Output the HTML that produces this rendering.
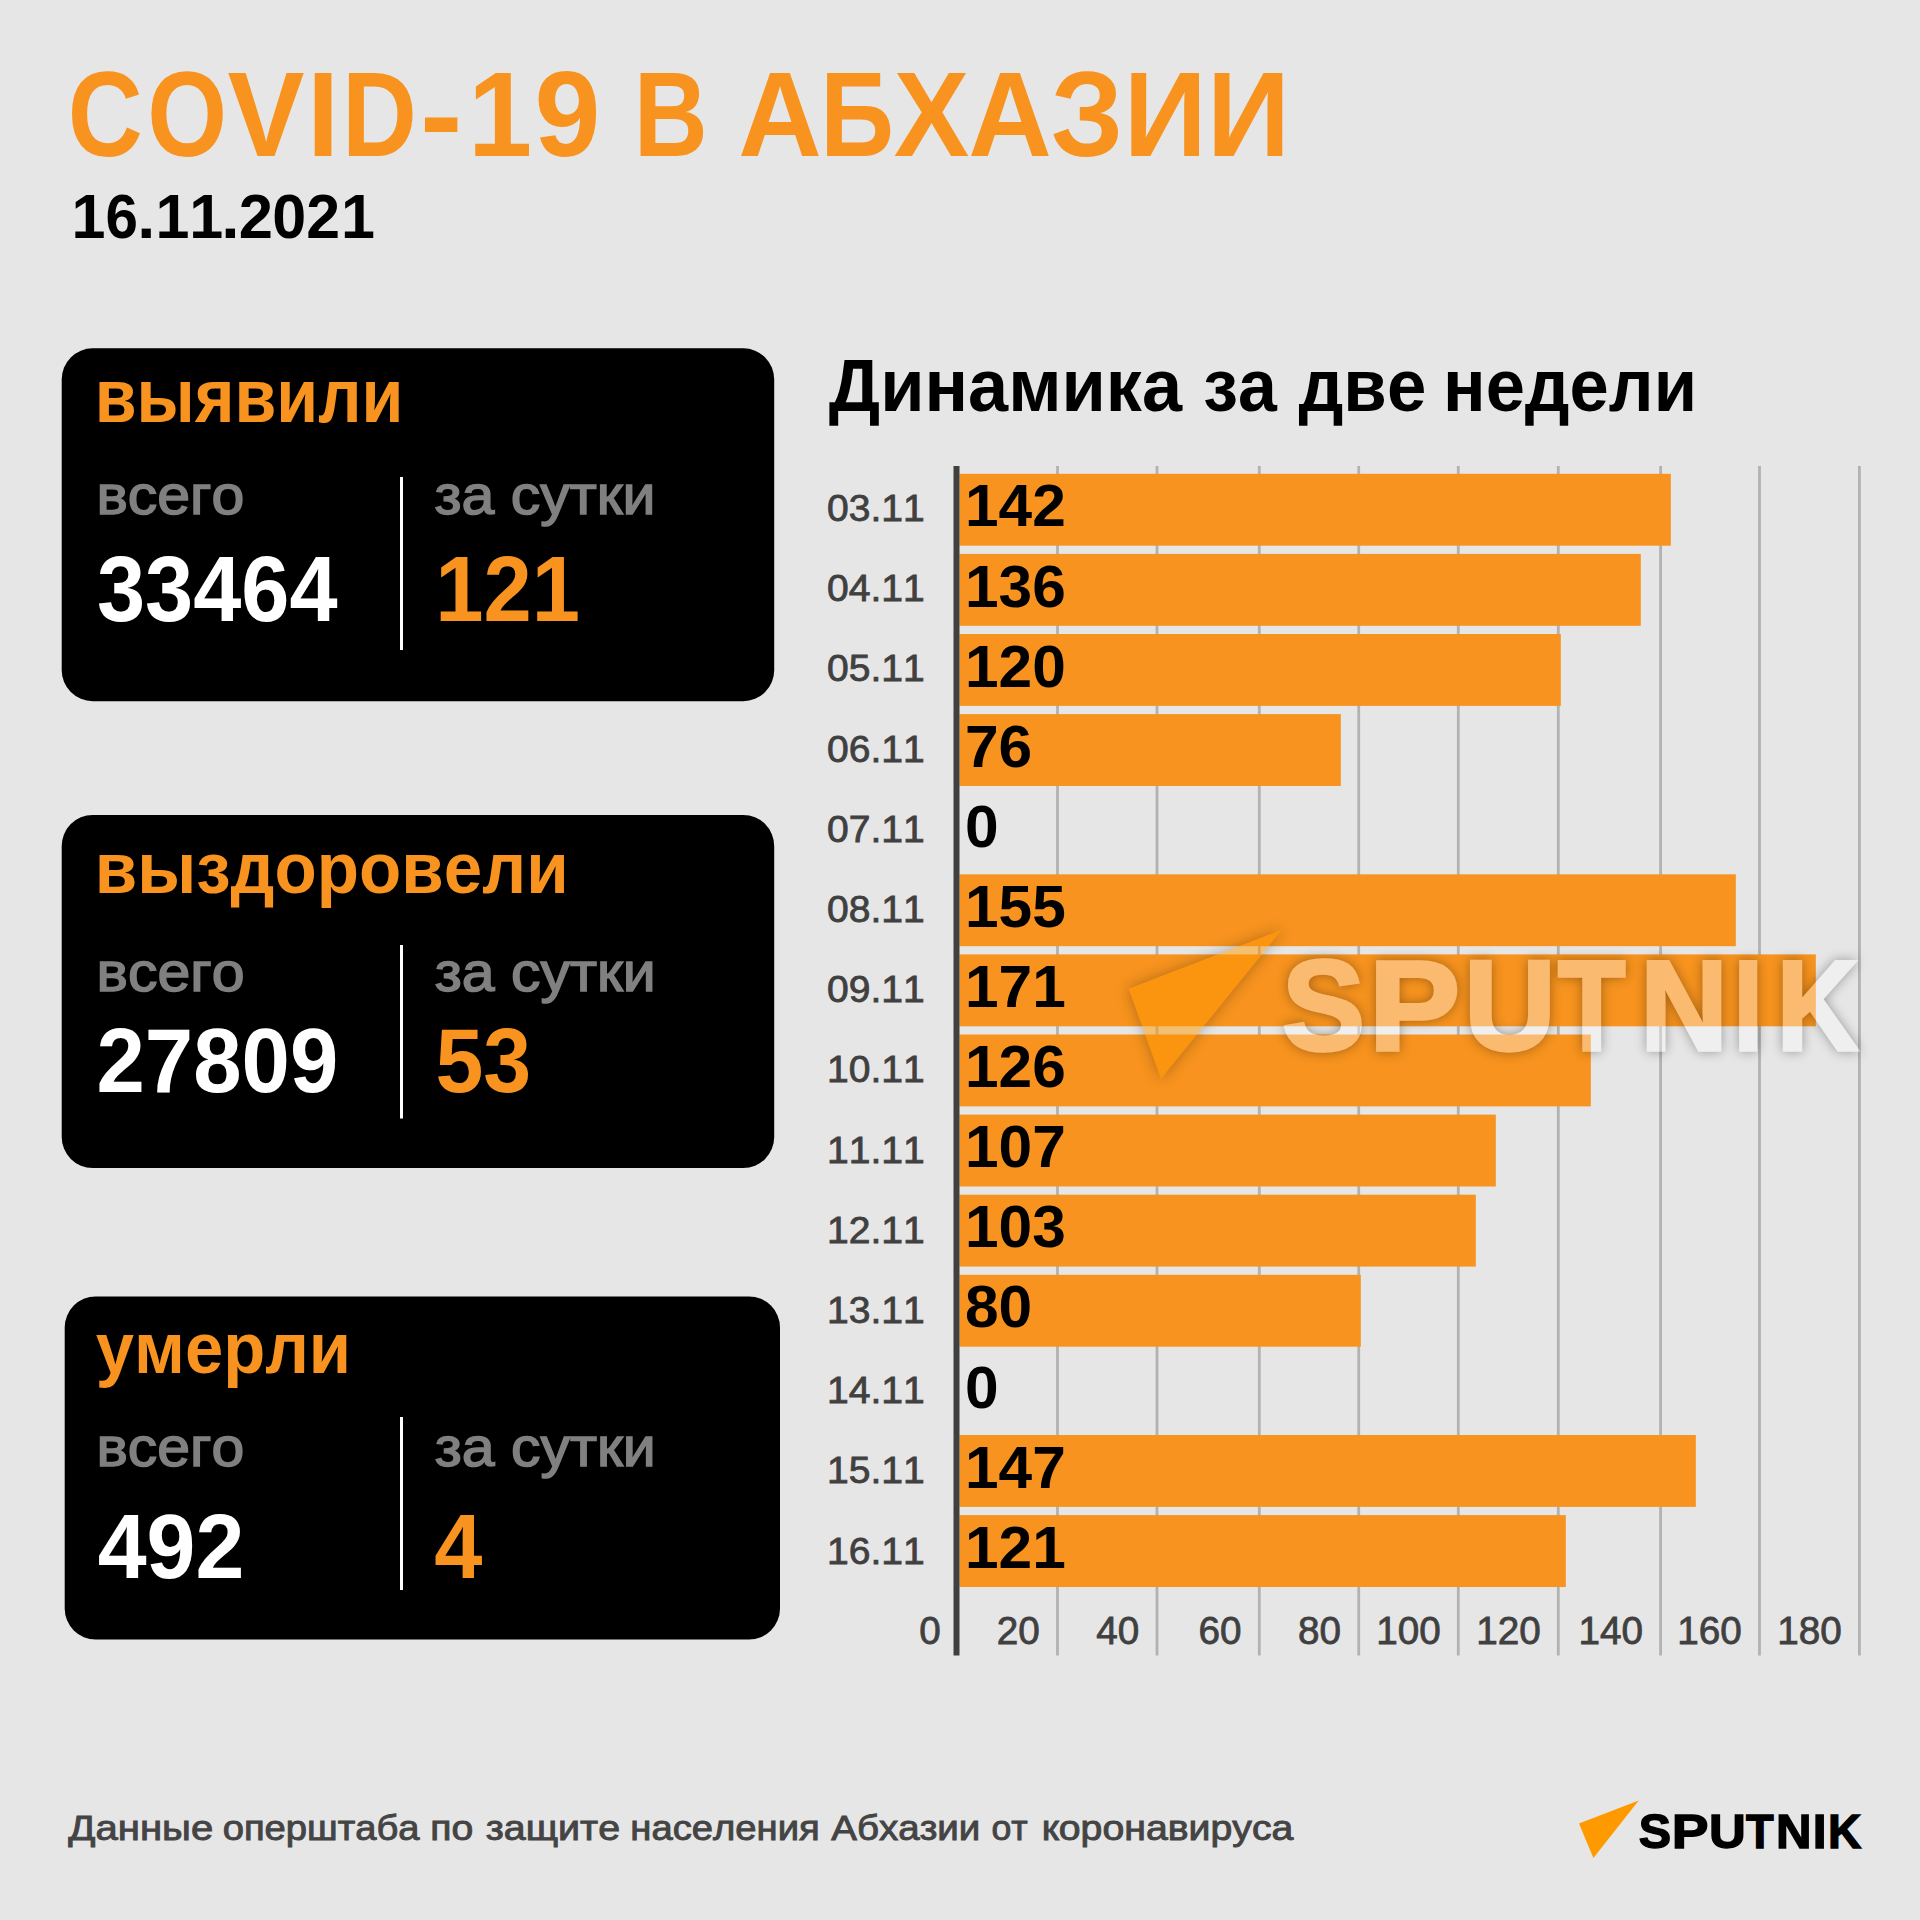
<!DOCTYPE html>
<html lang="ru"><head><meta charset="utf-8"><title>COVID-19 в Абхазии</title>
<style>html,body{margin:0;padding:0;background:#E6E6E6;overflow:hidden}svg{display:block}text{font-family:'Liberation Sans', Arial, sans-serif;white-space:pre;font-kerning:none}</style></head>
<body><svg width="1920" height="1920" viewBox="0 0 1920 1920">
<rect x="0" y="0" width="1920" height="1920" fill="#E6E6E6"/>
<rect x="61.7" y="348.3" width="712.5" height="352.9" rx="31" ry="31" fill="#000"/>
<rect x="61.7" y="815" width="712.5" height="353" rx="31" ry="31" fill="#000"/>
<rect x="64.7" y="1296.5" width="715.3" height="343" rx="31" ry="31" fill="#000"/>
<rect x="400" y="477" width="3" height="173" fill="#fff"/>
<rect x="400" y="945" width="3" height="173.5" fill="#fff"/>
<rect x="400" y="1417" width="3" height="173" fill="#fff"/>
<rect x="1056.1" y="466" width="2.8" height="1189.5" fill="#B2B2B2"/>
<rect x="1155.6" y="466" width="2.8" height="1189.5" fill="#B2B2B2"/>
<rect x="1257.9" y="466" width="2.8" height="1189.5" fill="#B2B2B2"/>
<rect x="1357.3" y="466" width="2.8" height="1189.5" fill="#B2B2B2"/>
<rect x="1456.9" y="466" width="2.8" height="1189.5" fill="#B2B2B2"/>
<rect x="1556.9" y="466" width="2.8" height="1189.5" fill="#B2B2B2"/>
<rect x="1659.2" y="466" width="2.8" height="1189.5" fill="#B2B2B2"/>
<rect x="1758.1" y="466" width="2.8" height="1189.5" fill="#B2B2B2"/>
<rect x="1858" y="466" width="2.8" height="1189.5" fill="#B2B2B2"/>
<rect x="959.5" y="473.8" width="711.3" height="71.9" fill="#F7931E"/>
<rect x="959.5" y="553.9" width="681.3" height="71.9" fill="#F7931E"/>
<rect x="959.5" y="634" width="601.3" height="71.9" fill="#F7931E"/>
<rect x="959.5" y="714.1" width="381.3" height="71.9" fill="#F7931E"/>
<rect x="959.5" y="874.3" width="776.3" height="71.9" fill="#F7931E"/>
<rect x="959.5" y="954.4" width="856.3" height="71.9" fill="#F7931E"/>
<rect x="959.5" y="1034.5" width="631.3" height="71.9" fill="#F7931E"/>
<rect x="959.5" y="1114.6" width="536.3" height="71.9" fill="#F7931E"/>
<rect x="959.5" y="1194.7" width="516.3" height="71.9" fill="#F7931E"/>
<rect x="959.5" y="1274.8" width="401.3" height="71.9" fill="#F7931E"/>
<rect x="959.5" y="1435" width="736.3" height="71.9" fill="#F7931E"/>
<rect x="959.5" y="1515.1" width="606.3" height="71.9" fill="#F7931E"/>
<rect x="953.5" y="466" width="6" height="1189.5" fill="#404040"/>
<text y="155.8" font-size="120.72" fill="#F7931E" font-weight="bold"><tspan x="67.85" textLength="74.98" lengthAdjust="spacingAndGlyphs">C</tspan><tspan x="147.15" textLength="79.75" lengthAdjust="spacingAndGlyphs">O</tspan><tspan x="227.6" textLength="76.97" lengthAdjust="spacingAndGlyphs">V</tspan><tspan x="306.99" textLength="32.1" lengthAdjust="spacingAndGlyphs">I</tspan><tspan x="342.01" textLength="74.86" lengthAdjust="spacingAndGlyphs">D</tspan><tspan x="419.9" textLength="42.45" lengthAdjust="spacingAndGlyphs">-</tspan><tspan x="468.02" textLength="64.17" lengthAdjust="spacingAndGlyphs">1</tspan><tspan x="534.6" textLength="65.94" lengthAdjust="spacingAndGlyphs">9</tspan> <tspan x="633.84" textLength="73.99" lengthAdjust="spacingAndGlyphs">В</tspan> <tspan x="738.36" textLength="83.54" lengthAdjust="spacingAndGlyphs">А</tspan><tspan x="820.34" textLength="73.61" lengthAdjust="spacingAndGlyphs">Б</tspan><tspan x="893.87" textLength="75.49" lengthAdjust="spacingAndGlyphs">Х</tspan><tspan x="968.36" textLength="83.54" lengthAdjust="spacingAndGlyphs">А</tspan><tspan x="1050.86" textLength="72.53" lengthAdjust="spacingAndGlyphs">З</tspan><tspan x="1123.75" textLength="82.93" lengthAdjust="spacingAndGlyphs">И</tspan><tspan x="1207" textLength="82.93" lengthAdjust="spacingAndGlyphs">И</tspan></text>
<text y="238" font-size="62.75" fill="#000" font-weight="bold"><tspan x="71.4" textLength="33.96" lengthAdjust="spacingAndGlyphs">1</tspan><tspan x="105.46" textLength="32.45" lengthAdjust="spacingAndGlyphs">6</tspan><tspan x="137.15" textLength="18.06" lengthAdjust="spacingAndGlyphs">.</tspan><tspan x="155.5" textLength="33.96" lengthAdjust="spacingAndGlyphs">1</tspan><tspan x="189.2" textLength="33.96" lengthAdjust="spacingAndGlyphs">1</tspan><tspan x="221.2" textLength="18.26" lengthAdjust="spacingAndGlyphs">.</tspan><tspan x="238.65" textLength="34.18" lengthAdjust="spacingAndGlyphs">2</tspan><tspan x="272.26" textLength="33.96" lengthAdjust="spacingAndGlyphs">0</tspan><tspan x="306.17" textLength="33.83" lengthAdjust="spacingAndGlyphs">2</tspan><tspan x="340.9" textLength="33.96" lengthAdjust="spacingAndGlyphs">1</tspan></text>
<text y="410.8" font-size="74.53" fill="#000" font-weight="bold"><tspan x="828.78" textLength="353.25" lengthAdjust="spacingAndGlyphs">Динамика</tspan> <tspan x="1203.25" textLength="73.58" lengthAdjust="spacingAndGlyphs">за</tspan> <tspan x="1298.4" textLength="127.88" lengthAdjust="spacingAndGlyphs">две</tspan> <tspan x="1443.06" textLength="253.95" lengthAdjust="spacingAndGlyphs">недели</tspan></text>
<text y="422.4" font-size="75.85" fill="#F7931E" font-weight="bold"><tspan x="94.63" textLength="308.72" lengthAdjust="spacingAndGlyphs">выявили</tspan></text>
<text y="514.25" font-size="55.09" fill="#808080" stroke="#808080" stroke-width="1.5"><tspan x="96.42" textLength="147.99" lengthAdjust="spacingAndGlyphs">всего</tspan></text>
<text y="514.25" font-size="55.09" fill="#808080" stroke="#808080" stroke-width="1.5"><tspan x="434.47" textLength="221.1" lengthAdjust="spacingAndGlyphs">за сутки</tspan></text>
<text y="621.4" font-size="92.75" fill="#fff" font-weight="bold"><tspan x="96.94" textLength="240.66" lengthAdjust="spacingAndGlyphs">33464</tspan></text>
<text y="621.4" font-size="92.75" fill="#F7931E" font-weight="bold"><tspan x="435.25" textLength="144.79" lengthAdjust="spacingAndGlyphs">121</tspan></text>
<text y="893.3" font-size="72.83" fill="#F7931E" font-weight="bold"><tspan x="94.66" textLength="474.02" lengthAdjust="spacingAndGlyphs">выздоровели</tspan></text>
<text y="990.55" font-size="54.72" fill="#808080" stroke="#808080" stroke-width="1.5"><tspan x="96.62" textLength="147.99" lengthAdjust="spacingAndGlyphs">всего</tspan></text>
<text y="990.55" font-size="54.72" fill="#808080" stroke="#808080" stroke-width="1.5"><tspan x="434.67" textLength="221.1" lengthAdjust="spacingAndGlyphs">за сутки</tspan></text>
<text y="1092.4" font-size="91.59" fill="#fff" font-weight="bold"><tspan x="96.46" textLength="241.86" lengthAdjust="spacingAndGlyphs">27809</tspan></text>
<text y="1092.4" font-size="91.59" fill="#F7931E" font-weight="bold"><tspan x="435.42" textLength="95.69" lengthAdjust="spacingAndGlyphs">53</tspan></text>
<text y="1372.8" font-size="72.64" fill="#F7931E" font-weight="bold"><tspan x="95.81" textLength="255.36" lengthAdjust="spacingAndGlyphs">умерли</tspan></text>
<text y="1466.45" font-size="54.91" fill="#808080" stroke="#808080" stroke-width="1.5"><tspan x="96.42" textLength="147.88" lengthAdjust="spacingAndGlyphs">всего</tspan></text>
<text y="1466.45" font-size="54.91" fill="#808080" stroke="#808080" stroke-width="1.5"><tspan x="434.67" textLength="221.1" lengthAdjust="spacingAndGlyphs">за сутки</tspan></text>
<text y="1577.5" font-size="91.59" fill="#fff" font-weight="bold"><tspan x="97.68" textLength="146.71" lengthAdjust="spacingAndGlyphs">492</tspan></text>
<text y="1577.5" font-size="91.59" fill="#F7931E" font-weight="bold"><tspan x="434.2" textLength="48.13" lengthAdjust="spacingAndGlyphs">4</tspan></text>
<text y="1840.25" font-size="34.34" fill="#444" stroke="#444" stroke-width="0.9"><tspan x="68.25" textLength="145.02" lengthAdjust="spacingAndGlyphs">Данные</tspan> <tspan x="222.67" textLength="196.89" lengthAdjust="spacingAndGlyphs">оперштаба</tspan> <tspan x="430.21" textLength="43.01" lengthAdjust="spacingAndGlyphs">по</tspan> <tspan x="485.71" textLength="134.36" lengthAdjust="spacingAndGlyphs">защите</tspan> <tspan x="630.27" textLength="189.51" lengthAdjust="spacingAndGlyphs">населения</tspan> <tspan x="831.26" textLength="149.05" lengthAdjust="spacingAndGlyphs">Абхазии</tspan> <tspan x="991.52" textLength="36.21" lengthAdjust="spacingAndGlyphs">от</tspan> <tspan x="1041.65" textLength="251.71" lengthAdjust="spacingAndGlyphs">коронавируса</tspan></text>
<text y="521" font-size="37.54" fill="#404040" stroke="#404040" stroke-width="0.8"><tspan x="827.12" textLength="97.67" lengthAdjust="spacingAndGlyphs">03.11</tspan></text>
<text y="526.4" font-size="60" fill="#000" font-weight="bold"><tspan x="965" textLength="100.83" lengthAdjust="spacingAndGlyphs">142</tspan></text>
<text y="601.2" font-size="37.54" fill="#404040" stroke="#404040" stroke-width="0.8"><tspan x="827.12" textLength="97.67" lengthAdjust="spacingAndGlyphs">04.11</tspan></text>
<text y="606.5" font-size="60" fill="#000" font-weight="bold"><tspan x="965" textLength="100.83" lengthAdjust="spacingAndGlyphs">136</tspan></text>
<text y="681.4" font-size="37.54" fill="#404040" stroke="#404040" stroke-width="0.8"><tspan x="827.12" textLength="97.67" lengthAdjust="spacingAndGlyphs">05.11</tspan></text>
<text y="686.6" font-size="60" fill="#000" font-weight="bold"><tspan x="965" textLength="100.83" lengthAdjust="spacingAndGlyphs">120</tspan></text>
<text y="761.6" font-size="37.54" fill="#404040" stroke="#404040" stroke-width="0.8"><tspan x="827.12" textLength="97.67" lengthAdjust="spacingAndGlyphs">06.11</tspan></text>
<text y="766.7" font-size="60" fill="#000" font-weight="bold"><tspan x="965" textLength="67.22" lengthAdjust="spacingAndGlyphs">76</tspan></text>
<text y="841.8" font-size="37.54" fill="#404040" stroke="#404040" stroke-width="0.8"><tspan x="827.12" textLength="97.67" lengthAdjust="spacingAndGlyphs">07.11</tspan></text>
<text y="846.8" font-size="60" fill="#000" font-weight="bold"><tspan x="965" textLength="33.61" lengthAdjust="spacingAndGlyphs">0</tspan></text>
<text y="922" font-size="37.54" fill="#404040" stroke="#404040" stroke-width="0.8"><tspan x="827.12" textLength="97.67" lengthAdjust="spacingAndGlyphs">08.11</tspan></text>
<text y="926.9" font-size="60" fill="#000" font-weight="bold"><tspan x="965" textLength="100.83" lengthAdjust="spacingAndGlyphs">155</tspan></text>
<text y="1002.2" font-size="37.54" fill="#404040" stroke="#404040" stroke-width="0.8"><tspan x="827.12" textLength="97.67" lengthAdjust="spacingAndGlyphs">09.11</tspan></text>
<text y="1007" font-size="60" fill="#000" font-weight="bold"><tspan x="965" textLength="100.83" lengthAdjust="spacingAndGlyphs">171</tspan></text>
<text y="1082.4" font-size="37.54" fill="#404040" stroke="#404040" stroke-width="0.8"><tspan x="827.12" textLength="97.67" lengthAdjust="spacingAndGlyphs">10.11</tspan></text>
<text y="1087.1" font-size="60" fill="#000" font-weight="bold"><tspan x="965" textLength="100.83" lengthAdjust="spacingAndGlyphs">126</tspan></text>
<text y="1162.6" font-size="37.54" fill="#404040" stroke="#404040" stroke-width="0.8"><tspan x="827.12" textLength="97.67" lengthAdjust="spacingAndGlyphs">11.11</tspan></text>
<text y="1167.2" font-size="60" fill="#000" font-weight="bold"><tspan x="965" textLength="100.83" lengthAdjust="spacingAndGlyphs">107</tspan></text>
<text y="1242.8" font-size="37.54" fill="#404040" stroke="#404040" stroke-width="0.8"><tspan x="827.12" textLength="97.67" lengthAdjust="spacingAndGlyphs">12.11</tspan></text>
<text y="1247.3" font-size="60" fill="#000" font-weight="bold"><tspan x="965" textLength="100.83" lengthAdjust="spacingAndGlyphs">103</tspan></text>
<text y="1323" font-size="37.54" fill="#404040" stroke="#404040" stroke-width="0.8"><tspan x="827.12" textLength="97.67" lengthAdjust="spacingAndGlyphs">13.11</tspan></text>
<text y="1327.4" font-size="60" fill="#000" font-weight="bold"><tspan x="965" textLength="67.22" lengthAdjust="spacingAndGlyphs">80</tspan></text>
<text y="1403.2" font-size="37.54" fill="#404040" stroke="#404040" stroke-width="0.8"><tspan x="827.12" textLength="97.67" lengthAdjust="spacingAndGlyphs">14.11</tspan></text>
<text y="1407.5" font-size="60" fill="#000" font-weight="bold"><tspan x="965" textLength="33.61" lengthAdjust="spacingAndGlyphs">0</tspan></text>
<text y="1483.4" font-size="37.54" fill="#404040" stroke="#404040" stroke-width="0.8"><tspan x="827.12" textLength="97.67" lengthAdjust="spacingAndGlyphs">15.11</tspan></text>
<text y="1487.6" font-size="60" fill="#000" font-weight="bold"><tspan x="965" textLength="100.83" lengthAdjust="spacingAndGlyphs">147</tspan></text>
<text y="1563.6" font-size="37.54" fill="#404040" stroke="#404040" stroke-width="0.8"><tspan x="827.12" textLength="97.67" lengthAdjust="spacingAndGlyphs">16.11</tspan></text>
<text y="1567.7" font-size="60" fill="#000" font-weight="bold"><tspan x="965" textLength="100.83" lengthAdjust="spacingAndGlyphs">121</tspan></text>
<text y="1644.1" font-size="38.41" fill="#404040" stroke="#404040" stroke-width="0.8"><tspan x="919.19" textLength="21.51" lengthAdjust="spacingAndGlyphs">0</tspan></text>
<text y="1644.1" font-size="38.41" fill="#404040" stroke="#404040" stroke-width="0.8"><tspan x="996.83" textLength="43.01" lengthAdjust="spacingAndGlyphs">20</tspan></text>
<text y="1644.1" font-size="38.41" fill="#404040" stroke="#404040" stroke-width="0.8"><tspan x="1096.33" textLength="43.01" lengthAdjust="spacingAndGlyphs">40</tspan></text>
<text y="1644.1" font-size="38.41" fill="#404040" stroke="#404040" stroke-width="0.8"><tspan x="1198.63" textLength="43.01" lengthAdjust="spacingAndGlyphs">60</tspan></text>
<text y="1644.1" font-size="38.41" fill="#404040" stroke="#404040" stroke-width="0.8"><tspan x="1298.03" textLength="43.01" lengthAdjust="spacingAndGlyphs">80</tspan></text>
<text y="1644.1" font-size="38.41" fill="#404040" stroke="#404040" stroke-width="0.8"><tspan x="1376.17" textLength="64.52" lengthAdjust="spacingAndGlyphs">100</tspan></text>
<text y="1644.1" font-size="38.41" fill="#404040" stroke="#404040" stroke-width="0.8"><tspan x="1476.17" textLength="64.52" lengthAdjust="spacingAndGlyphs">120</tspan></text>
<text y="1644.1" font-size="38.41" fill="#404040" stroke="#404040" stroke-width="0.8"><tspan x="1578.47" textLength="64.52" lengthAdjust="spacingAndGlyphs">140</tspan></text>
<text y="1644.1" font-size="38.41" fill="#404040" stroke="#404040" stroke-width="0.8"><tspan x="1677.37" textLength="64.52" lengthAdjust="spacingAndGlyphs">160</tspan></text>
<text y="1644.1" font-size="38.41" fill="#404040" stroke="#404040" stroke-width="0.8"><tspan x="1777.27" textLength="64.52" lengthAdjust="spacingAndGlyphs">180</tspan></text>
<polygon points="1638.75,1800.6 1579,1823.6 1593.4,1858" fill="#FF9900"/>
<text y="1847.5" font-size="48.26" font-weight="bold" fill="#000" stroke="#000" stroke-width="1.4" stroke-linejoin="miter"><tspan x="1638.75" textLength="32.35" lengthAdjust="spacingAndGlyphs">S</tspan><tspan x="1671.82" textLength="36.75" lengthAdjust="spacingAndGlyphs">P</tspan><tspan x="1709.04" textLength="36.83" lengthAdjust="spacingAndGlyphs">U</tspan><tspan x="1746.05" textLength="27.64" lengthAdjust="spacingAndGlyphs">T</tspan><tspan x="1776.11" textLength="35.5" lengthAdjust="spacingAndGlyphs">N</tspan><tspan x="1812.77" textLength="13.8" lengthAdjust="spacingAndGlyphs">I</tspan><tspan x="1827.9" textLength="33.37" lengthAdjust="spacingAndGlyphs">K</tspan></text>
<defs><filter id="wmt" x="-5%" y="-30%" width="110%" height="160%" color-interpolation-filters="sRGB"><feGaussianBlur in="SourceAlpha" stdDeviation="6" result="b"/><feComposite in="b" in2="SourceAlpha" operator="out" result="sh"/><feColorMatrix in="sh" type="matrix" values="0 0 0 0 0  0 0 0 0 0  0 0 0 0 0  0 0 0 0.34 0" result="sh2"/><feColorMatrix in="SourceGraphic" type="matrix" values="1 0 0 0 0  0 1 0 0 0  0 0 1 0 0  0 0 0 0.36 0" result="tx"/><feMerge><feMergeNode in="sh2"/><feMergeNode in="tx"/></feMerge></filter><filter id="wma" x="-20%" y="-20%" width="140%" height="140%" color-interpolation-filters="sRGB"><feGaussianBlur in="SourceAlpha" stdDeviation="7" result="b"/><feComposite in="b" in2="SourceAlpha" operator="out" result="sh"/><feColorMatrix in="sh" type="matrix" values="0 0 0 0 0  0 0 0 0 0  0 0 0 0 0  0 0 0 0.28 0" result="sh2"/><feColorMatrix in="SourceGraphic" type="matrix" values="1 0 0 0 0  0 1 0 0 0  0 0 1 0 0  0 0 0 0.5 0" result="tx"/><feMerge><feMergeNode in="sh2"/><feMergeNode in="tx"/></feMerge></filter></defs>
<polygon points="1281.9,929.8 1128.75,988.75 1161,1078.75" fill="#FF9900" filter="url(#wma)"/>
<text y="1049.5" font-size="127.83" font-weight="bold" fill="#fff" stroke="#fff" stroke-width="3.4" stroke-linejoin="miter" filter="url(#wmt)"><tspan x="1281.97" textLength="82.93" lengthAdjust="spacingAndGlyphs">S</tspan><tspan x="1368.79" textLength="91.39" lengthAdjust="spacingAndGlyphs">P</tspan><tspan x="1464.07" textLength="91.84" lengthAdjust="spacingAndGlyphs">U</tspan><tspan x="1558.1" textLength="67.4" lengthAdjust="spacingAndGlyphs">T</tspan><tspan x="1640.31" textLength="87.64" lengthAdjust="spacingAndGlyphs">N</tspan><tspan x="1733.57" textLength="29.42" lengthAdjust="spacingAndGlyphs">I</tspan><tspan x="1776.83" textLength="81.85" lengthAdjust="spacingAndGlyphs">K</tspan></text>
</svg></body></html>
